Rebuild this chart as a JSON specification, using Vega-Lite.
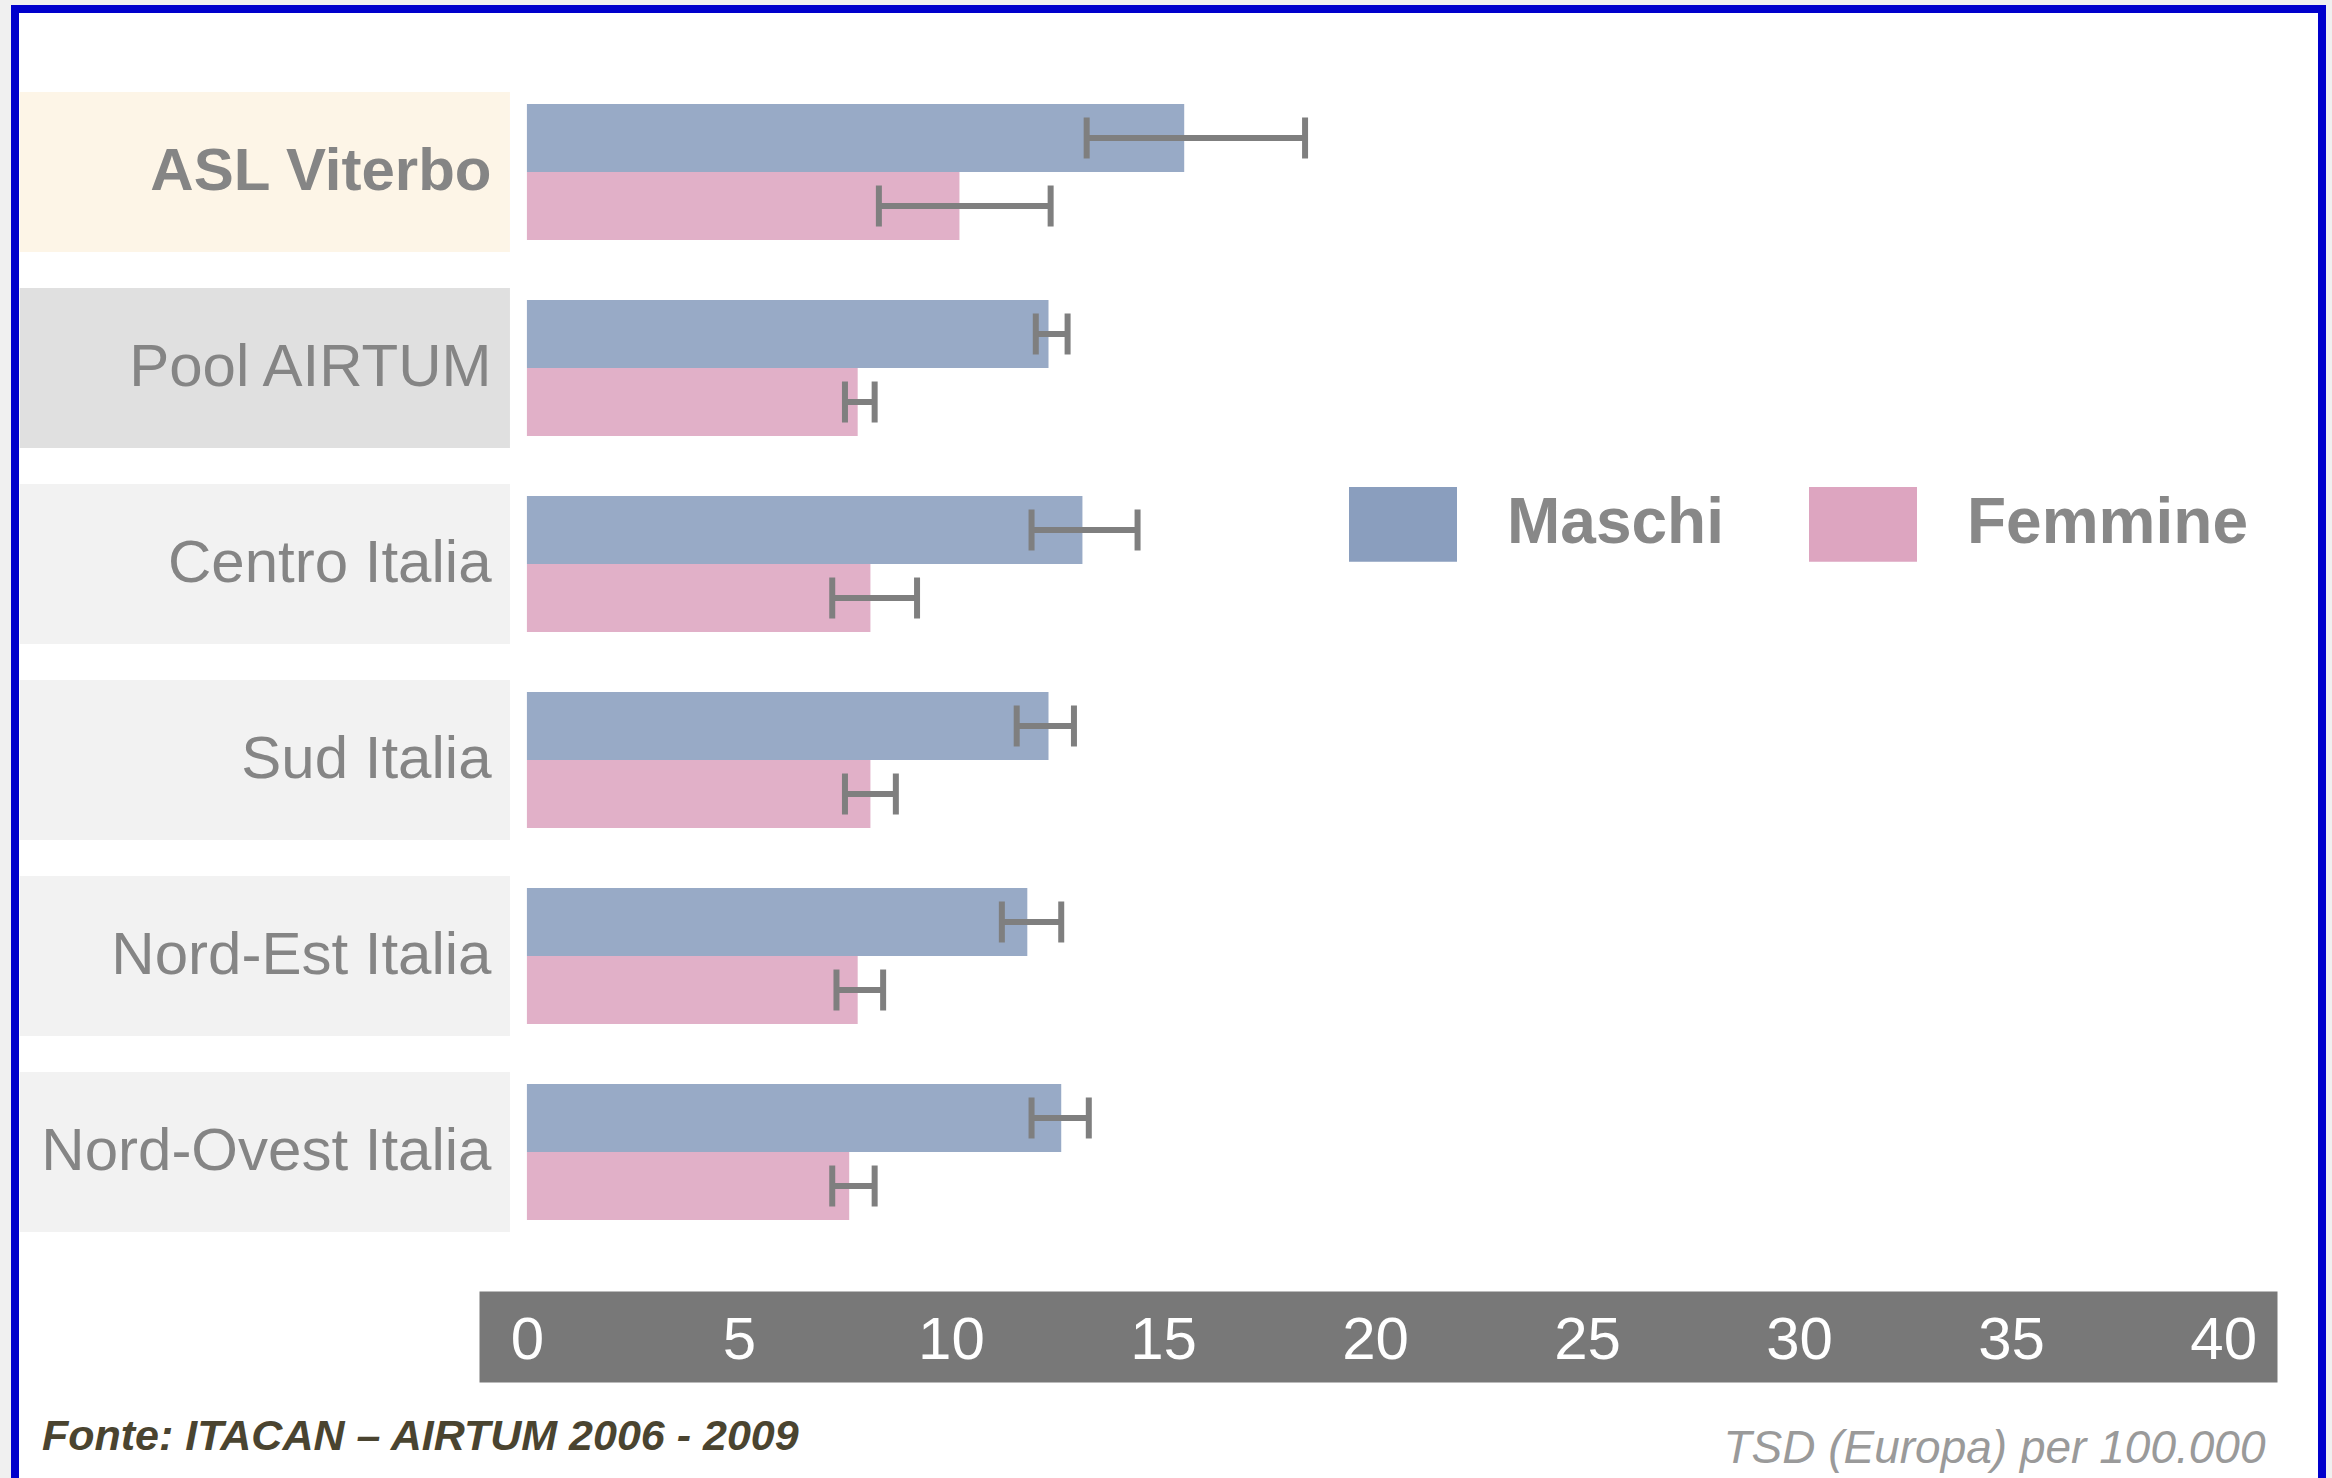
{
  "$schema": "https://vega.github.io/schema/vega-lite/v6.json",
  "width": 2307,
  "height": 1481,
  "autosize": {"type": "none"},
  "padding": {"left": 15, "top": 9, "right": 10, "bottom": -12},
  "background": "#f0f0f0",
  "config": {"view": {"stroke": "#0000cc", "strokeWidth": 8, "fill": "#ffffff"}},
  "title": {
    "text": "Fonte: ITACAN – AIRTUM  2006 - 2009",
    "orient": "bottom", "anchor": "start", "frame": "group",
    "offset": -40, "dx": 27, "baseline": "alphabetic",
    "font": "Liberation Sans", "fontSize": 43, "fontWeight": "bold", "fontStyle": "italic",
    "color": "#4a4430"
  },
  "data": {"values": [
    {"area": "ASL Viterbo", "sex": "Maschi", "value": 15.5, "lo": 13.2, "hi": 18.35},
    {"area": "ASL Viterbo", "sex": "Femmine", "value": 10.2, "lo": 8.3, "hi": 12.35},
    {"area": "Pool AIRTUM", "sex": "Maschi", "value": 12.3, "lo": 12.0, "hi": 12.75},
    {"area": "Pool AIRTUM", "sex": "Femmine", "value": 7.8, "lo": 7.5, "hi": 8.2},
    {"area": "Centro Italia", "sex": "Maschi", "value": 13.1, "lo": 11.9, "hi": 14.4},
    {"area": "Centro Italia", "sex": "Femmine", "value": 8.1, "lo": 7.2, "hi": 9.2},
    {"area": "Sud Italia", "sex": "Maschi", "value": 12.3, "lo": 11.55, "hi": 12.9},
    {"area": "Sud Italia", "sex": "Femmine", "value": 8.1, "lo": 7.5, "hi": 8.7},
    {"area": "Nord-Est Italia", "sex": "Maschi", "value": 11.8, "lo": 11.2, "hi": 12.6},
    {"area": "Nord-Est Italia", "sex": "Femmine", "value": 7.8, "lo": 7.3, "hi": 8.4},
    {"area": "Nord-Ovest Italia", "sex": "Maschi", "value": 12.6, "lo": 11.9, "hi": 13.25},
    {"area": "Nord-Ovest Italia", "sex": "Femmine", "value": 7.6, "lo": 7.2, "hi": 8.2}
  ]},
  "encoding": {
    "y": {
      "field": "area", "type": "nominal",
      "scale": {
        "domain": ["ASL Viterbo", "Pool AIRTUM", "Centro Italia", "Sud Italia", "Nord-Est Italia", "Nord-Ovest Italia"],
        "range": [65, 1241], "paddingInner": 0, "paddingOuter": 0
      },
      "axis": {
        "title": null, "orient": "left", "offset": -476,
        "domain": false, "ticks": false, "tickSize": 0, "labelPadding": 0,
        "labelFontSize": 60, "labelFont": "Liberation Sans",
        "labelColor": "#858585", "labelLimit": 1000,
        "labelFontWeight": {"condition": {"test": "datum.value === 'ASL Viterbo'", "value": "bold"}, "value": "normal"},
        "zindex": 1
      }
    }
  },
  "resolve": {"axis": {"x": "independent"}},
  "layer": [
    {
      "transform": [{"filter": "datum.sex === 'Maschi'"}],
      "mark": {"type": "bar", "height": {"band": 0.816}},
      "encoding": {
        "x": {"datum": -11.96, "type": "quantitative", "axis": null},
        "x2": {"datum": -0.4},
        "color": {
          "condition": [
            {"test": "datum.area === 'ASL Viterbo'", "value": "#fdf5e7"},
            {"test": "datum.area === 'Pool AIRTUM'", "value": "#e0e0e0"}
          ],
          "value": "#f2f2f2"
        }
      }
    },
    {
      "mark": {"type": "bar", "opacity": 0.88},
      "encoding": {
        "x": {
          "field": "value", "type": "quantitative",
          "scale": {"domain": [-1.13, 41.27], "range": [464, 2262], "nice": false, "zero": false},
          "axis": {
            "orient": "bottom", "offset": -153.5,
            "values": [0, 5, 10, 15, 20, 25, 30, 35, 40],
            "domainWidth": 91, "domainColor": "#787878", "domainCap": "butt",
            "ticks": false, "tickSize": 0, "grid": false, "labels": false,
            "title": null, "zindex": 1
          }
        },
        "x2": {"datum": 0},
        "yOffset": {
          "field": "sex", "type": "nominal",
          "scale": {"domain": ["Maschi", "Femmine"], "paddingInner": 0, "paddingOuter": 0.441}
        },
        "color": {
          "field": "sex", "type": "nominal",
          "scale": {"domain": ["Maschi", "Femmine"], "range": ["#8a9ebe", "#dda5c0"]},
          "legend": {
            "orient": "none", "legendX": 1334, "legendY": 461,
            "direction": "horizontal", "title": null,
            "symbolType": "M-1,-0.69L1,-0.69L1,0.69L-1,0.69Z",
            "symbolSize": 11664, "symbolStrokeWidth": 0, "symbolOpacity": 1,
            "labelFontSize": 64, "labelFont": "Liberation Sans",
            "labelFontWeight": "bold", "labelColor": "#888888",
            "labelOffset": 50, "columnPadding": 85, "labelLimit": 1000, "padding": 0
          }
        }
      }
    },
    {
      "mark": {"type": "rule", "color": "#7f7f7f", "strokeWidth": 6},
      "encoding": {
        "x": {
          "field": "lo", "type": "quantitative",
          "axis": {
            "orient": "bottom", "offset": -153.5,
            "values": [0, 5, 10, 15, 20, 25, 30, 35, 40],
            "domain": false, "ticks": false, "tickSize": 0, "grid": false,
            "labelColor": "#ffffff", "labelFontSize": 60, "labelFont": "Liberation Sans",
            "labelBaseline": "alphabetic", "labelPadding": 22,
            "labelFlush": false, "labelOverlap": false,
            "title": "TSD (Europa) per 100.000",
            "titleFont": "Liberation Sans",
            "titleFontStyle": "italic", "titleFontWeight": "normal", "titleFontSize": 46,
            "titleColor": "#9a9a9a", "titleAlign": "right", "titleAnchor": "end",
            "titleBaseline": "alphabetic", "titleX": 2250, "titleY": 126,
            "zindex": 2
          }
        },
        "x2": {"field": "hi"},
        "yOffset": {"field": "sex", "type": "nominal"}
      }
    },
    {
      "mark": {"type": "tick", "color": "#7f7f7f", "size": 41, "thickness": 6, "opacity": 1},
      "encoding": {
        "x": {"field": "lo", "type": "quantitative", "axis": null},
        "yOffset": {"field": "sex", "type": "nominal"}
      }
    },
    {
      "mark": {"type": "tick", "color": "#7f7f7f", "size": 41, "thickness": 6, "opacity": 1},
      "encoding": {
        "x": {"field": "hi", "type": "quantitative", "axis": null},
        "yOffset": {"field": "sex", "type": "nominal"}
      }
    }
  ]
}
